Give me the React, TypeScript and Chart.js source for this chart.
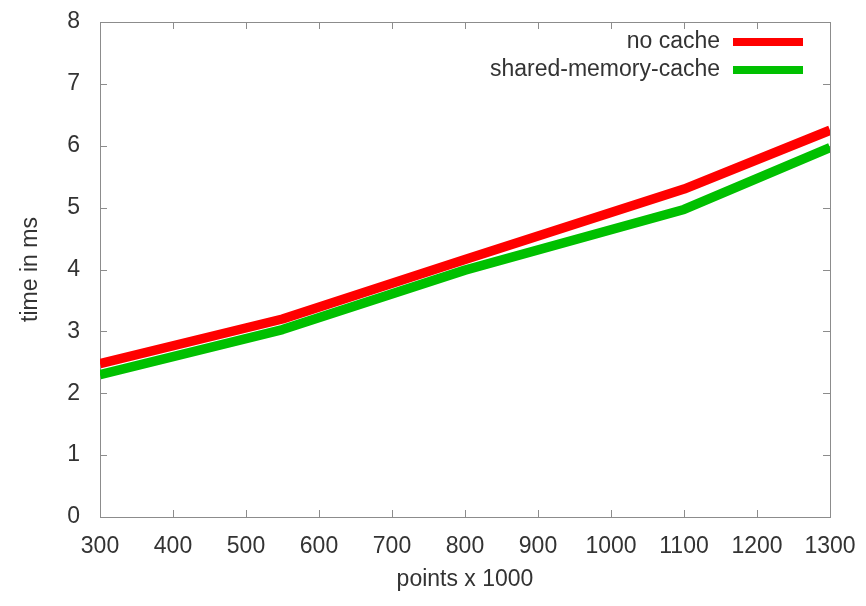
import React, { useEffect, useRef } from "react";
import { Chart, registerables } from "chart.js";

Chart.register(...registerables);

const xValues = [300, 550, 800, 1100, 1300];
const noCache = [2.48, 3.2, 4.16, 5.3, 6.25];
const sharedMemoryCache = [2.3, 3.03, 3.99, 4.97, 5.97];
const seriesNames = ["no cache", "shared-memory-cache"];
const seriesColors = ["#ff0000", "#00c000"];
const xTicks = [300, 400, 500, 600, 700, 800, 900, 1000, 1100, 1200, 1300];
const yTicks = [0, 1, 2, 3, 4, 5, 6, 7, 8];
const xTitle = "points x 1000";
const yTitle = "time in ms";

const FONT = "'Liberation Sans', Arial, sans-serif";
const FS = 23;
const TEXT = "#333333";
const FRAME = "#8c8c8c";

const framePlugin = {
  id: "gnuFrame",
  beforeDatasetsDraw(chart: any) {
    const { ctx, chartArea: a, scales } = chart;
    ctx.save();
    ctx.strokeStyle = FRAME;
    ctx.lineWidth = 1;
    ctx.strokeRect(a.left + 0.5, a.top + 0.5, a.right - a.left, a.bottom - a.top);
    const t = 7;
    ctx.beginPath();
    xTicks.forEach((v) => {
      const x = Math.round(scales.x.getPixelForValue(v)) + 0.5;
      ctx.moveTo(x, a.bottom);
      ctx.lineTo(x, a.bottom - t);
      ctx.moveTo(x, a.top);
      ctx.lineTo(x, a.top + t);
    });
    yTicks.forEach((v) => {
      const y = Math.round(scales.y.getPixelForValue(v)) + 0.5;
      ctx.moveTo(a.left, y);
      ctx.lineTo(a.left + t, y);
      ctx.moveTo(a.right, y);
      ctx.lineTo(a.right - t, y);
    });
    ctx.stroke();
    ctx.restore();
  },
  afterDatasetsDraw(chart: any) {
    const { ctx } = chart;
    ctx.save();
    ctx.font = `${FS}px ${FONT}`;
    ctx.textAlign = "right";
    ctx.textBaseline = "middle";
    chart.data.datasets.forEach((ds: any, i: number) => {
      const y = 42 + i * 28;
      ctx.fillStyle = TEXT;
      ctx.fillText(ds.label, 720, y);
      ctx.strokeStyle = ds.borderColor;
      ctx.lineWidth = 8;
      ctx.lineCap = "butt";
      ctx.beginPath();
      ctx.moveTo(733, y);
      ctx.lineTo(803, y);
      ctx.stroke();
    });
    ctx.restore();
  },
};

export default function App() {
  const ref = useRef<HTMLCanvasElement>(null);
  useEffect(() => {
    if (!ref.current) return;
    const chart = new Chart(ref.current, {
      type: "line",
      data: {
        datasets: [
          {
            label: seriesNames[0],
            data: xValues.map((x, i) => ({ x, y: noCache[i] })),
            borderColor: seriesColors[0],
            backgroundColor: seriesColors[0],
            borderWidth: 9.5,
            pointRadius: 0,
            tension: 0,
            borderJoinStyle: "round",
            borderCapStyle: "butt",
          },
          {
            label: seriesNames[1],
            data: xValues.map((x, i) => ({ x, y: sharedMemoryCache[i] })),
            borderColor: seriesColors[1],
            backgroundColor: seriesColors[1],
            borderWidth: 9.5,
            pointRadius: 0,
            tension: 0,
            borderJoinStyle: "round",
            borderCapStyle: "butt",
          },
        ],
      },
      options: {
        responsive: false,
        animation: false,
        layout: { padding: { top: 22, right: 36, left: 0, bottom: 0 } },
        plugins: { legend: { display: false }, tooltip: { enabled: false } },
        scales: {
          x: {
            type: "linear",
            min: 300,
            max: 1300,
            afterBuildTicks: (s: any) => {
              s.ticks = xTicks.map((v) => ({ value: v }));
            },
            afterFit: (s: any) => {
              s.height = 89;
              s.paddingLeft = 0;
              s.paddingRight = 0;
            },
            grid: { display: false, drawTicks: false },
            border: { display: false },
            ticks: {
              padding: 16,
              color: TEXT,
              font: { family: FONT, size: FS },
              maxRotation: 0,
              autoSkip: false,
              callback: (v: any) => String(v),
            },
            title: {
              display: true,
              text: xTitle,
              color: TEXT,
              font: { family: FONT, size: FS },
              padding: { top: 0, bottom: 13 },
            },
          },
          y: {
            type: "linear",
            min: 0,
            max: 8,
            afterBuildTicks: (s: any) => {
              s.ticks = yTicks.map((v) => ({ value: v }));
            },
            afterFit: (s: any) => {
              s.width = 100;
              s.paddingTop = 0;
              s.paddingBottom = 0;
            },
            grid: { display: false, drawTicks: false },
            border: { display: false },
            ticks: {
              padding: 20,
              color: TEXT,
              font: { family: FONT, size: FS },
              autoSkip: false,
              callback: (v: any) => String(v),
            },
            title: {
              display: true,
              text: yTitle,
              color: TEXT,
              font: { family: FONT, size: FS },
              padding: { top: 17, bottom: 0 },
            },
          },
        },
      },
      plugins: [framePlugin],
    } as any);
    return () => chart.destroy();
  }, []);
  return (
    <div style={{ position: "fixed", left: 0, top: 0, width: 866, height: 606, background: "#fff" }}>
      <canvas ref={ref} width={866} height={606} />
    </div>
  );
}
